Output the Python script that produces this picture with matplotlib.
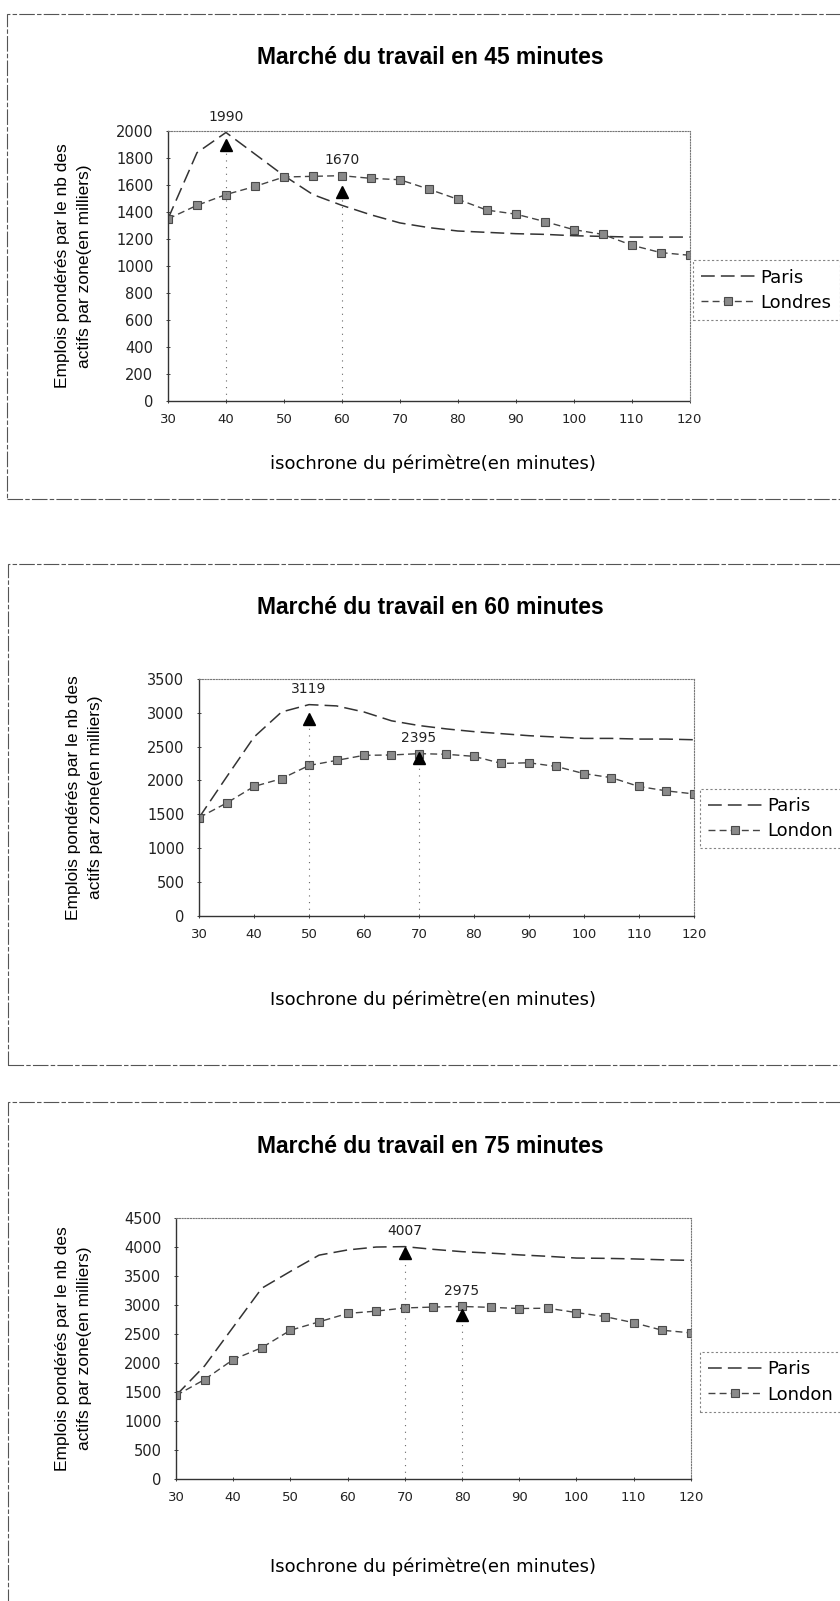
import matplotlib.pyplot as plt
from matplotlib.patches import Rectangle

plt.rcParams['font.family'] = ['DejaVu Sans']

minutes = [30, 35, 40, 45, 50, 55, 60, 65, 70, 75, 80, 85, 90, 95, 100, 105, 110, 115, 120]

# Marché du travail en 45 minutes
paris_45 = [1350, 1840, 1990, 1830, 1670, 1530, 1450, 1380, 1320, 1285, 1260, 1250, 1240, 1235,
            1225, 1220, 1215, 1215, 1215]
londres_45 = [1350, 1450, 1530, 1590, 1660, 1665, 1670, 1650, 1640, 1570, 1495, 1415, 1385, 1330,
              1270, 1235, 1155, 1100, 1080]

# Marché du travail en 60 minutes
paris_60 = [1450, 2050, 2640, 3010, 3119, 3100, 3010, 2880, 2810, 2760, 2720, 2690, 2660, 2640,
            2620, 2620, 2610, 2610, 2600]
london_60 = [1450, 1665, 1910, 2025, 2220, 2295, 2370, 2375, 2395, 2385, 2355, 2250, 2260, 2205,
             2100, 2040, 1910, 1845, 1800]

# Marché du travail en 75 minutes
paris_75 = [1440, 1950, 2620, 3290, 3580, 3860, 3950, 4000, 4007, 3960, 3920, 3895, 3865, 3840,
            3810, 3805, 3795, 3780, 3770]
london_75 = [1440, 1715, 2060, 2265, 2565, 2710, 2855, 2895, 2950, 2965, 2975, 2960, 2940, 2945,
             2870, 2800, 2695, 2565, 2520]

# peak markers: x of the peak, label, y of the triangle
peaks_45 = [(40, 1990, 1900), (60, 1670, 1550)]
peaks_60 = [(50, 3119, 2900), (70, 2395, 2330)]
peaks_75 = [(70, 4007, 3900), (80, 2975, 2830)]

panels = [
    dict(title="Marché du travail en 45 minutes", paris=paris_45, other=londres_45,
         other_name="Londres", peaks=peaks_45, ymax=2000, ystep=200,
         xlabel="isochrone du périmètre(en minutes)", xlab_y=464,
         ax_rect=[0.200, 0.7495, 0.621, 0.1686], box=(7, 14, 499),
         leg=(0.814, 0.843), ylab_x=0.0875),
    dict(title="Marché du travail en 60 minutes", paris=paris_60, other=london_60,
         other_name="London", peaks=peaks_60, ymax=3500, ystep=500,
         xlabel="Isochrone du périmètre(en minutes)", xlab_y=1000,
         ax_rect=[0.237, 0.428, 0.589, 0.148], box=(8, 564, 1065),
         leg=(0.822, 0.513), ylab_x=0.1008),
    dict(title="Marché du travail en 75 minutes", paris=paris_75, other=london_75,
         other_name="London", peaks=peaks_75, ymax=4500, ystep=500,
         xlabel="Isochrone du périmètre(en minutes)", xlab_y=1567,
         ax_rect=[0.2095, 0.0762, 0.613, 0.163], box=(8, 1102, 1700),
         leg=(0.822, 0.161), ylab_x=0.0875),
]

W, H = 840, 1601
fig = plt.figure(figsize=(W / 100, H / 100), dpi=100)

for p in panels:
    left, top, bottom = p['box']
    fig.patches.append(Rectangle((left / W, 1 - bottom / H), 1.2, (bottom - top) / H,
                                 transform=fig.transFigure, fill=False, edgecolor='#555555',
                                 linewidth=0.8, linestyle=(0, (14, 2, 4, 2))))

    ax = fig.add_axes(p['ax_rect'])
    ax.plot(minutes, p['paris'], color='#333333', linewidth=1.1, dashes=(9, 4),
            label='Paris')
    ax.plot(minutes, p['other'], color='#444444', linewidth=1.0, dashes=(5, 3),
            marker='s', markersize=5.5, markerfacecolor='#8a8a8a', markeredgecolor='#4a4a4a',
            markeredgewidth=0.8, label=p['other_name'])

    for px, val, tri in p['peaks']:
        ax.plot([px, px], [0, tri], color='#666666', linewidth=0.8, linestyle=(0, (1, 5)))
        ax.plot(px, tri, marker='^', color='black', markersize=8.5, linestyle='none')
        ax.annotate(str(val), (px, val), xytext=(0, 6), textcoords='offset points',
                    ha='center', va='bottom', fontsize=10, color='#222222')

    ax.set_xlim(30, 120)
    ax.set_ylim(0, p['ymax'])
    ax.set_xticks(range(30, 121, 10))
    ax.set_yticks(range(0, p['ymax'] + 1, p['ystep']))
    ax.tick_params(axis='both', labelsize=10.5, length=3, direction='inout', width=0.6,
                   colors='#222222')
    ax.tick_params(axis='y', pad=9)
    ax.tick_params(axis='x', pad=7, labelsize=9.5)
    for side in ['left', 'bottom']:
        ax.spines[side].set_linestyle((0, (1, 1)))
        ax.spines[side].set_linewidth(1.0)
        ax.spines[side].set_color('#333333')
    for side in ['top', 'right']:
        ax.spines[side].set_linestyle((0, (1, 1.5)))
        ax.spines[side].set_linewidth(0.8)
        ax.spines[side].set_color('#777777')

    pos = ax.get_position()
    fig.text(0.512, 1 - (p['box'][1] + 44) / H, p['title'], ha='center', va='center',
             fontsize=16.5, fontweight='bold', family='Liberation Sans')
    fig.text(0.515, 1 - p['xlab_y'] / H, p['xlabel'], ha='center', va='center', fontsize=13)
    fig.text(p['ylab_x'], pos.y0 + pos.height / 2,
             "Emplois pondérés par le nb des\nactifs par zone(en milliers)",
             rotation=90, ha='center', va='center', fontsize=12.5, linespacing=1.6,
             family='Liberation Sans')

    leg = ax.legend(loc='upper left', bbox_to_anchor=p['leg'],
                    bbox_transform=fig.transFigure, fontsize=13, handlelength=3.0,
                    handletextpad=0.3, frameon=True, fancybox=False, borderpad=0.45,
                    labelspacing=0.4)
    leg.get_frame().set_edgecolor('#666666')
    leg.get_frame().set_linestyle((0, (2, 2)))
    leg.get_frame().set_linewidth(0.8)

fig.savefig('out.png', dpi=100)
